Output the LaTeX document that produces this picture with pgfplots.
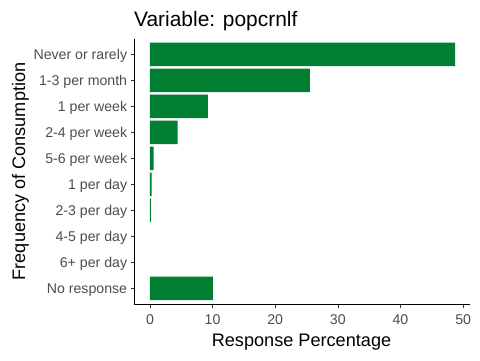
\documentclass[border=0pt]{standalone}
\usepackage{fontspec}
\setmainfont{Liberation Sans}
\usepackage{pgfplots}
\pgfplotsset{compat=1.18}
\definecolor{bargreen}{RGB}{0,127,51}
\definecolor{ticktext}{RGB}{77,77,77}
\definecolor{tickline}{RGB}{51,51,51}
\begin{document}
\begin{tikzpicture}[x=1bp,y=1bp]
\useasboundingbox (0,0) rectangle (480,360);
\begin{axis}[
  at={(134.3bp,56bp)}, anchor=south west,
  scale only axis, width=335.7bp, height=265.3bp,
  xmin=-2.5, xmax=51.1,
  ymin=0.4, ymax=10.6, y dir=reverse,
  axis lines*=left,
  axis line style={black, line width=0.7bp},
  xtick={0,10,20,30,40,50},
  ytick={1,...,10},
  yticklabels={Never or rarely,1-3 per month,1 per week,2-4 per week,5-6 per week,1 per day,2-3 per day,4-5 per day,6+ per day,No response},
  tick align=outside,
  major tick length=3.5bp,
  tick style={tickline, line width=0.7bp},
  /pgf/number format/assume math mode=true,
  ticklabel style={font=\fontsize{14.2}{16}\selectfont, text=ticktext, inner sep=0pt},
  yticklabel style={anchor=base east, xshift=-3.5bp, yshift=-5.3bp},
  xticklabel style={yshift=-7bp},
  clip=false,
]
\addplot[xbar, bar width=0.9, bar shift=0pt, fill=bargreen, draw=none] coordinates {
  (48.72,1) (25.54,2) (9.23,3) (4.43,4) (0.59,5) (0.27,6) (0.15,7) (10.05,10)
};
\end{axis}
\node[anchor=base west, inner sep=0pt, font=\fontsize{21}{24}\selectfont] at (134,334) {Variable: popcrnlf};
\node[anchor=base, inner sep=0pt, font=\fontsize{18.2}{20}\selectfont] at (301.5,13.3) {Response Percentage};
\node[anchor=base, rotate=90, inner sep=0pt, font=\fontsize{18.2}{20}\selectfont] at (25,188.6) {Frequency of Consumption};
\end{tikzpicture}
\end{document}
